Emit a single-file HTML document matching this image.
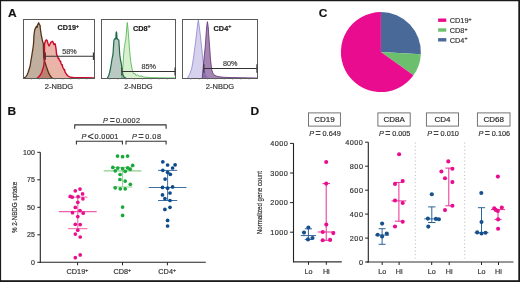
<!DOCTYPE html>
<html><head><meta charset="utf-8"><style>
html,body{margin:0;padding:0;background:#fff;}
svg{display:block;}
text{font-family:"Liberation Sans",sans-serif;stroke:#333;stroke-width:0.18px;}
</style></head><body>
<svg width="520" height="282" viewBox="0 0 520 282" font-family="Liberation Sans, sans-serif">
<rect width="520" height="282" fill="#fff"/>
<rect x="0" y="0" width="1.1" height="282" fill="#1a1a1a"/>
<rect x="0" y="0" width="520" height="1.25" fill="#1a1a1a"/>
<rect x="518.3" y="0" width="1.7" height="282" fill="#1a1a1a"/>
<rect x="0" y="280.2" width="520" height="1.8" fill="#1a1a1a"/>
<text transform="translate(7.9,16.9) scale(1.15,1)" font-size="10.4" font-weight="bold" fill="#111">A</text>
<text transform="translate(7.6,114.7) scale(1.15,1)" font-size="10.4" font-weight="bold" fill="#111">B</text>
<text transform="translate(318.7,17.1) scale(1.15,1)" font-size="10.4" font-weight="bold" fill="#111">C</text>
<text transform="translate(250.5,114.7) scale(1.15,1)" font-size="10.4" font-weight="bold" fill="#111">D</text>
<path d="M23.6,78.3 L24.5,77.6 L25.7,77 L27,75 L28.2,72.3 L29.2,69 L30.1,66.1 L30.7,62 L31.3,58.6 L31.9,55 L32.5,51.2 L33,48 L33.4,45 L33.7,41 L34,35 L34.4,32 L34.8,29.6 L35.6,28 L36.4,26.4 L37,27.5 L37.7,24.5 L38.7,22.7 L39.3,24.5 L40.1,25.4 L40.3,28 L40.6,30.7 L41.1,34 L41.7,37.1 L42.3,40 L42.8,42 L43.3,43.5 L43.5,50 L43.7,57.4 L44.9,62 L46.2,66.1 L47.4,69.5 L48.6,72.9 L49.8,75.2 L51.1,77 L52.5,78.3 Z" fill="#C0AE9F" fill-opacity="1" stroke="none"/>
<clipPath id="cb"><path d="M23.6,78.3 L24.5,77.6 L25.7,77 L27,75 L28.2,72.3 L29.2,69 L30.1,66.1 L30.7,62 L31.3,58.6 L31.9,55 L32.5,51.2 L33,48 L33.4,45 L33.7,41 L34,35 L34.4,32 L34.8,29.6 L35.6,28 L36.4,26.4 L37,27.5 L37.7,24.5 L38.7,22.7 L39.3,24.5 L40.1,25.4 L40.3,28 L40.6,30.7 L41.1,34 L41.7,37.1 L42.3,40 L42.8,42 L43.3,43.5 L43.5,50 L43.7,57.4 L44.9,62 L46.2,66.1 L47.4,69.5 L48.6,72.9 L49.8,75.2 L51.1,77 L52.5,78.3 Z"/></clipPath>
<path d="M36.9,78.3 L38.7,77 L40.3,75 L41.8,72.3 L42.8,69 L43.7,66.1 L44.2,62 L44.5,58 L44.5,50 L44.6,44 L45.2,41.5 L46,40.2 L46.6,39.9 L47.3,41 L48,43.5 L48.6,45 L49.1,45.9 L49.8,44.5 L50.5,43 L51.2,42 L52,41.5 L52.6,41.3 L53.2,42.5 L53.7,44 L54.1,44.5 L54.6,44 L55.1,43.8 L55.6,46 L56.2,50.2 L56.5,53.7 L57,55.5 L57.8,56.6 L58.2,58.5 L58.8,58.2 L59.3,59.8 L60.2,61.5 L60.6,61.2 L61,63.5 L61.8,65 L62.3,64.8 L62.6,66.8 L63.4,68.5 L64.2,70 L64.6,69.6 L65,71.8 L65.8,73.2 L66.6,74.5 L67.5,75.5 L68.4,76.2 L69.5,76.8 L71,77.3 L74,77.6 L78,77.8 L86,77.8 L94,78 Z" fill="#EBB4A9"/>
<path d="M36.9,78.3 L38.7,77 L40.3,75 L41.8,72.3 L42.8,69 L43.7,66.1 L44.2,62 L44.5,58 L44.5,50 L44.6,44 L45.2,41.5 L46,40.2 L46.6,39.9 L47.3,41 L48,43.5 L48.6,45 L49.1,45.9 L49.8,44.5 L50.5,43 L51.2,42 L52,41.5 L52.6,41.3 L53.2,42.5 L53.7,44 L54.1,44.5 L54.6,44 L55.1,43.8 L55.6,46 L56.2,50.2 L56.5,53.7 L57,55.5 L57.8,56.6 L58.2,58.5 L58.8,58.2 L59.3,59.8 L60.2,61.5 L60.6,61.2 L61,63.5 L61.8,65 L62.3,64.8 L62.6,66.8 L63.4,68.5 L64.2,70 L64.6,69.6 L65,71.8 L65.8,73.2 L66.6,74.5 L67.5,75.5 L68.4,76.2 L69.5,76.8 L71,77.3 L74,77.6 L78,77.8 L86,77.8 L94,78 Z" fill="#BB8070" clip-path="url(#cb)"/>
<path d="M23.6,78.3 L24.5,77.6 L25.7,77 L27,75 L28.2,72.3 L29.2,69 L30.1,66.1 L30.7,62 L31.3,58.6 L31.9,55 L32.5,51.2 L33,48 L33.4,45 L33.7,41 L34,35 L34.4,32 L34.8,29.6 L35.6,28 L36.4,26.4 L37,27.5 L37.7,24.5 L38.7,22.7 L39.3,24.5 L40.1,25.4 L40.3,28 L40.6,30.7 L41.1,34 L41.7,37.1 L42.3,40 L42.8,42 L43.3,43.5 L43.5,50 L43.7,57.4 L44.9,62 L46.2,66.1 L47.4,69.5 L48.6,72.9 L49.8,75.2 L51.1,77 L52.5,78.3" fill="none" stroke="#553418" stroke-width="1.3" stroke-linejoin="round"/>
<path d="M36.9,78.3 L38.7,77 L40.3,75 L41.8,72.3 L42.8,69 L43.7,66.1 L44.2,62 L44.5,58 L44.5,50 L44.6,44 L45.2,41.5 L46,40.2 L46.6,39.9 L47.3,41 L48,43.5 L48.6,45 L49.1,45.9 L49.8,44.5 L50.5,43 L51.2,42 L52,41.5 L52.6,41.3 L53.2,42.5 L53.7,44 L54.1,44.5 L54.6,44 L55.1,43.8 L55.6,46 L56.2,50.2 L56.5,53.7 L57,55.5 L57.8,56.6 L58.2,58.5 L58.8,58.2 L59.3,59.8 L60.2,61.5 L60.6,61.2 L61,63.5 L61.8,65 L62.3,64.8 L62.6,66.8 L63.4,68.5 L64.2,70 L64.6,69.6 L65,71.8 L65.8,73.2 L66.6,74.5 L67.5,75.5 L68.4,76.2 L69.5,76.8 L71,77.3 L74,77.6 L78,77.8 L86,77.8 L94,78" fill="none" stroke="#C80A2C" stroke-width="1.4" stroke-linejoin="round"/>
<path d="M107.4,78.3 L108.5,76 L109.5,73 L110.6,68 L111.4,63 L112.2,58 L112.9,55 L113.4,48 L113.8,42 L114,40 L115,38.5 L115.8,39 L116.1,33 L116.4,31.9 L116.7,33 L117,38.5 L118,39.5 L118.8,40 L119.2,46 L119.8,55 L120.5,60 L121.2,63 L121.8,67 L122.3,71.1 L123,75 L124,77 L126,78.3 Z" fill="#BACAC3" fill-opacity="1" stroke="none"/>
<path d="M121.9,78.3 L122.6,70 L123.2,62 L123.6,55 L124.3,48 L125.2,42 L125.7,40 L126.3,33 L126.8,27 L127.3,22.5 L127.8,27 L128.3,33 L128.9,40 L129.4,48 L130,55 L130.8,61.6 L131.8,68 L132.9,72.2 L134,74 L135,73.5 L136,75.5 L137.5,74.8 L139,76.2 L141,76 L143.5,77 L150,77.6 L160,77.8 L175,78 Z" fill="#D8EFD0" style="mix-blend-mode:multiply"/>
<path d="M107.4,78.3 L108.5,76 L109.5,73 L110.6,68 L111.4,63 L112.2,58 L112.9,55 L113.4,48 L113.8,42 L114,40 L115,38.5 L115.8,39 L116.1,33 L116.4,31.9 L116.7,33 L117,38.5 L118,39.5 L118.8,40 L119.2,46 L119.8,55 L120.5,60 L121.2,63 L121.8,67 L122.3,71.1 L123,75 L124,77 L126,78.3" fill="none" stroke="#1C6A4A" stroke-width="1.2" stroke-linejoin="round"/>
<path d="M121.9,78.3 L122.6,70 L123.2,62 L123.6,55 L124.3,48 L125.2,42 L125.7,40 L126.3,33 L126.8,27 L127.3,22.5 L127.8,27 L128.3,33 L128.9,40 L129.4,48 L130,55 L130.8,61.6 L131.8,68 L132.9,72.2 L134,74 L135,73.5 L136,75.5 L137.5,74.8 L139,76.2 L141,76 L143.5,77 L150,77.6 L160,77.8 L175,78" fill="none" stroke="#46B447" stroke-width="0.8" stroke-linejoin="round"/>
<path d="M187.3,78.3 L189.5,74.5 L191.6,69 L192.7,63 L193.9,55 L194.6,49 L195.6,42 L196.5,34 L197.3,27 L197.8,23 L198.3,20.2 L198.8,23 L199.4,28 L200.2,34 L201,42 L201.8,49 L202.5,56 L203.3,63 L204.2,68 L205,71.1 L206.2,75 L207.5,77.2 L209,78.3 Z" fill="#D6D2EE" fill-opacity="1" stroke="none"/>
<path d="M202.2,78.3 L202.8,72 L203.4,65 L204.2,57 L205,49 L205.6,42 L206.1,34 L206.7,27 L207.1,23.5 L207.4,21.7 L207.8,24 L208.3,28 L208.7,34 L209.2,41 L209.8,49 L210.3,57 L211,64 L211.8,70 L212.8,73 L214,74.8 L216,76 L219,76.8 L224,77.3 L232,77.6 L257,78 Z" fill="#A585B2" style="mix-blend-mode:multiply"/>
<path d="M187.3,78.3 L189.5,74.5 L191.6,69 L192.7,63 L193.9,55 L194.6,49 L195.6,42 L196.5,34 L197.3,27 L197.8,23 L198.3,20.2 L198.8,23 L199.4,28 L200.2,34 L201,42 L201.8,49 L202.5,56 L203.3,63 L204.2,68 L205,71.1 L206.2,75 L207.5,77.2 L209,78.3" fill="none" stroke="#8C84CE" stroke-width="0.8" stroke-linejoin="round"/>
<path d="M202.2,78.3 L202.8,72 L203.4,65 L204.2,57 L205,49 L205.6,42 L206.1,34 L206.7,27 L207.1,23.5 L207.4,21.7 L207.8,24 L208.3,28 L208.7,34 L209.2,41 L209.8,49 L210.3,57 L211,64 L211.8,70 L212.8,73 L214,74.8 L216,76 L219,76.8 L224,77.3 L232,77.6 L257,78" fill="none" stroke="#643478" stroke-width="0.85" stroke-linejoin="round"/>
<rect x="23.5" y="19.5" width="71.0" height="59" fill="none" stroke="#5a5a5a" stroke-width="1"/>
<line x1="31.38888888888889" y1="78.5" x2="31.38888888888889" y2="80" stroke="#999" stroke-width="0.5" />
<line x1="39.27777777777778" y1="78.5" x2="39.27777777777778" y2="80" stroke="#999" stroke-width="0.5" />
<line x1="47.16666666666667" y1="78.5" x2="47.16666666666667" y2="80" stroke="#999" stroke-width="0.5" />
<line x1="55.05555555555556" y1="78.5" x2="55.05555555555556" y2="80" stroke="#999" stroke-width="0.5" />
<line x1="62.94444444444444" y1="78.5" x2="62.94444444444444" y2="80" stroke="#999" stroke-width="0.5" />
<line x1="70.83333333333334" y1="78.5" x2="70.83333333333334" y2="80" stroke="#999" stroke-width="0.5" />
<line x1="78.72222222222223" y1="78.5" x2="78.72222222222223" y2="80" stroke="#999" stroke-width="0.5" />
<line x1="86.61111111111111" y1="78.5" x2="86.61111111111111" y2="80" stroke="#999" stroke-width="0.5" />
<text x="59.0" y="88.8" font-size="7.5" text-anchor="middle" font-weight="normal" fill="#333"  >2-NBDG</text>
<rect x="101.5" y="19.5" width="74.0" height="59" fill="none" stroke="#5a5a5a" stroke-width="1"/>
<line x1="109.72222222222223" y1="78.5" x2="109.72222222222223" y2="80" stroke="#999" stroke-width="0.5" />
<line x1="117.94444444444444" y1="78.5" x2="117.94444444444444" y2="80" stroke="#999" stroke-width="0.5" />
<line x1="126.16666666666667" y1="78.5" x2="126.16666666666667" y2="80" stroke="#999" stroke-width="0.5" />
<line x1="134.38888888888889" y1="78.5" x2="134.38888888888889" y2="80" stroke="#999" stroke-width="0.5" />
<line x1="142.61111111111111" y1="78.5" x2="142.61111111111111" y2="80" stroke="#999" stroke-width="0.5" />
<line x1="150.83333333333334" y1="78.5" x2="150.83333333333334" y2="80" stroke="#999" stroke-width="0.5" />
<line x1="159.05555555555554" y1="78.5" x2="159.05555555555554" y2="80" stroke="#999" stroke-width="0.5" />
<line x1="167.27777777777777" y1="78.5" x2="167.27777777777777" y2="80" stroke="#999" stroke-width="0.5" />
<text x="138.5" y="88.8" font-size="7.5" text-anchor="middle" font-weight="normal" fill="#333"  >2-NBDG</text>
<rect x="182.5" y="19.5" width="75.0" height="59" fill="none" stroke="#5a5a5a" stroke-width="1"/>
<line x1="190.83333333333334" y1="78.5" x2="190.83333333333334" y2="80" stroke="#999" stroke-width="0.5" />
<line x1="199.16666666666666" y1="78.5" x2="199.16666666666666" y2="80" stroke="#999" stroke-width="0.5" />
<line x1="207.5" y1="78.5" x2="207.5" y2="80" stroke="#999" stroke-width="0.5" />
<line x1="215.83333333333334" y1="78.5" x2="215.83333333333334" y2="80" stroke="#999" stroke-width="0.5" />
<line x1="224.16666666666666" y1="78.5" x2="224.16666666666666" y2="80" stroke="#999" stroke-width="0.5" />
<line x1="232.5" y1="78.5" x2="232.5" y2="80" stroke="#999" stroke-width="0.5" />
<line x1="240.83333333333334" y1="78.5" x2="240.83333333333334" y2="80" stroke="#999" stroke-width="0.5" />
<line x1="249.16666666666669" y1="78.5" x2="249.16666666666669" y2="80" stroke="#999" stroke-width="0.5" />
<text x="220.0" y="88.8" font-size="7.5" text-anchor="middle" font-weight="normal" fill="#333"  >2-NBDG</text>
<text x="57.6" y="30.3" font-size="7.2" font-weight="bold" fill="#111" text-anchor="start">CD19<tspan font-size="5.184" dy="-2.16">+</tspan></text>
<text x="132.9" y="30.5" font-size="7.3" font-weight="bold" fill="#111" text-anchor="start">CD8<tspan font-size="5.255999999999999" dy="-2.19">+</tspan></text>
<text x="213.6" y="30.5" font-size="7.3" font-weight="bold" fill="#111" text-anchor="start">CD4<tspan font-size="5.255999999999999" dy="-2.19">+</tspan></text>
<line x1="45.3" y1="56.2" x2="93.4" y2="56.2" stroke="#333" stroke-width="1.1" />
<line x1="45.3" y1="52.400000000000006" x2="45.3" y2="60.0" stroke="#333" stroke-width="1.1" />
<line x1="93.4" y1="52.400000000000006" x2="93.4" y2="60.0" stroke="#333" stroke-width="1.1" />
<line x1="121.8" y1="71.5" x2="175" y2="71.5" stroke="#333" stroke-width="1.1" />
<line x1="121.8" y1="67.5" x2="121.8" y2="75.5" stroke="#333" stroke-width="1.1" />
<line x1="175" y1="67.5" x2="175" y2="75.5" stroke="#333" stroke-width="1.1" />
<line x1="203.9" y1="68.5" x2="256.9" y2="68.5" stroke="#333" stroke-width="1.1" />
<line x1="203.9" y1="64.3" x2="203.9" y2="72.7" stroke="#333" stroke-width="1.1" />
<line x1="256.9" y1="64.3" x2="256.9" y2="72.7" stroke="#333" stroke-width="1.1" />
<text x="62.2" y="54" font-size="7.2" text-anchor="start" font-weight="normal" fill="#444"  >58%</text>
<text x="141.4" y="68.6" font-size="7.2" text-anchor="start" font-weight="normal" fill="#444"  >85%</text>
<text x="223" y="66.4" font-size="7.2" text-anchor="start" font-weight="normal" fill="#444"  >80%</text>
<path d="M380.9,52.1 L380.90,12.10 A40,40 0 0 1 420.85,54.19 Z" fill="#496A98"/>
<path d="M380.9,52.1 L420.85,54.19 A40,40 0 0 1 413.46,75.33 Z" fill="#6CC06D"/>
<path d="M380.9,52.1 L413.46,75.33 A40,40 0 1 1 380.90,12.10 Z" fill="#EA0C8E"/>
<rect x="438.1" y="18.5" width="8.2" height="3.4" fill="#EA0C8E"/>
<text x="449.8" y="22.9" font-size="7.3" font-weight="normal" fill="#333" text-anchor="start">CD19<tspan font-size="5.255999999999999" dy="-2.19">+</tspan></text>
<rect x="438.1" y="28.3" width="8.2" height="3.4" fill="#6CC06D"/>
<text x="449.8" y="32.7" font-size="7.3" font-weight="normal" fill="#333" text-anchor="start">CD8<tspan font-size="5.255999999999999" dy="-2.19">+</tspan></text>
<rect x="438.1" y="38.1" width="8.2" height="3.4" fill="#496A98"/>
<text x="449.8" y="42.5" font-size="7.3" font-weight="normal" fill="#333" text-anchor="start">CD4<tspan font-size="5.255999999999999" dy="-2.19">+</tspan></text>
<line x1="40.3" y1="152.3" x2="40.3" y2="262.8" stroke="#222" stroke-width="1.1" />
<line x1="39.8" y1="262.3" x2="205.8" y2="262.3" stroke="#222" stroke-width="1.1" />
<line x1="37.3" y1="152.3" x2="40.3" y2="152.3" stroke="#222" stroke-width="1" />
<text x="34.8" y="154.8" font-size="7" text-anchor="end" font-weight="normal" fill="#333"  >100</text>
<line x1="37.3" y1="179.8" x2="40.3" y2="179.8" stroke="#222" stroke-width="1" />
<text x="34.8" y="182.3" font-size="7" text-anchor="end" font-weight="normal" fill="#333"  >75</text>
<line x1="37.3" y1="207.3" x2="40.3" y2="207.3" stroke="#222" stroke-width="1" />
<text x="34.8" y="209.8" font-size="7" text-anchor="end" font-weight="normal" fill="#333"  >50</text>
<line x1="37.3" y1="234.8" x2="40.3" y2="234.8" stroke="#222" stroke-width="1" />
<text x="34.8" y="237.3" font-size="7" text-anchor="end" font-weight="normal" fill="#333"  >25</text>
<line x1="37.3" y1="262.3" x2="40.3" y2="262.3" stroke="#222" stroke-width="1" />
<text x="34.8" y="264.8" font-size="7" text-anchor="end" font-weight="normal" fill="#333"  >0</text>
<line x1="77.6" y1="262.3" x2="77.6" y2="265.3" stroke="#222" stroke-width="1" />
<text x="77.39999999999999" y="273.9" font-size="7.3" font-weight="normal" fill="#333" text-anchor="middle">CD19<tspan font-size="5.255999999999999" dy="-2.19">+</tspan></text>
<line x1="122.5" y1="262.3" x2="122.5" y2="265.3" stroke="#222" stroke-width="1" />
<text x="122.3" y="273.9" font-size="7.3" font-weight="normal" fill="#333" text-anchor="middle">CD8<tspan font-size="5.255999999999999" dy="-2.19">+</tspan></text>
<line x1="167.4" y1="262.3" x2="167.4" y2="265.3" stroke="#222" stroke-width="1" />
<text x="167.20000000000002" y="273.9" font-size="7.3" font-weight="normal" fill="#333" text-anchor="middle">CD4<tspan font-size="5.255999999999999" dy="-2.19">+</tspan></text>
<text transform="translate(16.7,207.5) rotate(-90) scale(0.78,1)" font-size="8" text-anchor="middle" fill="#2a2a2a" stroke="#2a2a2a" stroke-width="0.2">% 2-NBDG uptake</text>
<line x1="58.9" y1="211.6" x2="96.69999999999999" y2="211.6" stroke="#EE5FA9" stroke-width="1.1" />
<line x1="68.1" y1="197.1" x2="87.5" y2="197.1" stroke="#EE5FA9" stroke-width="1" />
<line x1="68.1" y1="228.7" x2="87.5" y2="228.7" stroke="#EE5FA9" stroke-width="1" />
<line x1="77.8" y1="197.1" x2="77.8" y2="228.7" stroke="#EE5FA9" stroke-width="1" />
<circle cx="80.0" cy="189.1" r="1.85" fill="#E8108C"/>
<circle cx="75.3" cy="190.8" r="1.85" fill="#E8108C"/>
<circle cx="82.6" cy="193.9" r="1.85" fill="#E8108C"/>
<circle cx="70.3" cy="196.4" r="1.85" fill="#E8108C"/>
<circle cx="72.2" cy="197.2" r="1.85" fill="#E8108C"/>
<circle cx="78.1" cy="196.7" r="1.85" fill="#E8108C"/>
<circle cx="82.9" cy="198.8" r="1.85" fill="#E8108C"/>
<circle cx="77.8" cy="202.3" r="1.85" fill="#E8108C"/>
<circle cx="75.3" cy="207.4" r="1.85" fill="#E8108C"/>
<circle cx="80.0" cy="210.6" r="1.85" fill="#E8108C"/>
<circle cx="72.5" cy="212.7" r="1.85" fill="#E8108C"/>
<circle cx="83.2" cy="213.2" r="1.85" fill="#E8108C"/>
<circle cx="77.8" cy="216.6" r="1.85" fill="#E8108C"/>
<circle cx="75.3" cy="224.3" r="1.85" fill="#E8108C"/>
<circle cx="80.2" cy="224.6" r="1.85" fill="#E8108C"/>
<circle cx="77.8" cy="230.2" r="1.85" fill="#E8108C"/>
<circle cx="75.3" cy="234.1" r="1.85" fill="#E8108C"/>
<circle cx="80.2" cy="237.0" r="1.85" fill="#E8108C"/>
<circle cx="80.2" cy="254.9" r="1.85" fill="#E8108C"/>
<circle cx="75.3" cy="257.7" r="1.85" fill="#E8108C"/>
<line x1="103.69999999999999" y1="170.9" x2="141.5" y2="170.9" stroke="#8ED08E" stroke-width="1.1" />
<line x1="113.0" y1="167.4" x2="132.2" y2="167.4" stroke="#8ED08E" stroke-width="1" />
<line x1="113.0" y1="187" x2="132.2" y2="187" stroke="#8ED08E" stroke-width="1" />
<line x1="122.6" y1="167.4" x2="122.6" y2="187" stroke="#8ED08E" stroke-width="1" />
<circle cx="117.5" cy="156.1" r="1.85" fill="#19A83C"/>
<circle cx="122.6" cy="156.7" r="1.85" fill="#19A83C"/>
<circle cx="127.6" cy="156.1" r="1.85" fill="#19A83C"/>
<circle cx="132.7" cy="165.4" r="1.85" fill="#19A83C"/>
<circle cx="112.8" cy="167.4" r="1.85" fill="#19A83C"/>
<circle cx="117.8" cy="168.1" r="1.85" fill="#19A83C"/>
<circle cx="122.6" cy="168.6" r="1.85" fill="#19A83C"/>
<circle cx="127.7" cy="167.9" r="1.85" fill="#19A83C"/>
<circle cx="130.2" cy="169.3" r="1.85" fill="#19A83C"/>
<circle cx="115.3" cy="170.8" r="1.85" fill="#19A83C"/>
<circle cx="125.2" cy="171.3" r="1.85" fill="#19A83C"/>
<circle cx="120.1" cy="174.5" r="1.85" fill="#19A83C"/>
<circle cx="119.9" cy="179.5" r="1.85" fill="#19A83C"/>
<circle cx="125.2" cy="181.1" r="1.85" fill="#19A83C"/>
<circle cx="130.3" cy="184.3" r="1.85" fill="#19A83C"/>
<circle cx="115.2" cy="187.8" r="1.85" fill="#19A83C"/>
<circle cx="120.3" cy="188.8" r="1.85" fill="#19A83C"/>
<circle cx="125.2" cy="188.8" r="1.85" fill="#19A83C"/>
<circle cx="122.6" cy="207.1" r="1.85" fill="#19A83C"/>
<circle cx="122.6" cy="215.4" r="1.85" fill="#19A83C"/>
<line x1="148.7" y1="187.5" x2="186.5" y2="187.5" stroke="#3C6EA3" stroke-width="1.1" />
<line x1="158.0" y1="170.4" x2="177.2" y2="170.4" stroke="#3C6EA3" stroke-width="1" />
<line x1="158.0" y1="200.5" x2="177.2" y2="200.5" stroke="#3C6EA3" stroke-width="1" />
<line x1="167.6" y1="170.4" x2="167.6" y2="200.5" stroke="#3C6EA3" stroke-width="1" />
<circle cx="162.8" cy="161.8" r="1.85" fill="#0C4A89"/>
<circle cx="167.6" cy="165.0" r="1.85" fill="#0C4A89"/>
<circle cx="175.1" cy="164.8" r="1.85" fill="#0C4A89"/>
<circle cx="172.6" cy="168.0" r="1.85" fill="#0C4A89"/>
<circle cx="162.8" cy="170.3" r="1.85" fill="#0C4A89"/>
<circle cx="167.6" cy="172.3" r="1.85" fill="#0C4A89"/>
<circle cx="170.3" cy="174.3" r="1.85" fill="#0C4A89"/>
<circle cx="165.1" cy="179.1" r="1.85" fill="#0C4A89"/>
<circle cx="162.5" cy="187.4" r="1.85" fill="#0C4A89"/>
<circle cx="167.6" cy="188.2" r="1.85" fill="#0C4A89"/>
<circle cx="172.6" cy="186.9" r="1.85" fill="#0C4A89"/>
<circle cx="162.5" cy="194.9" r="1.85" fill="#0C4A89"/>
<circle cx="170" cy="193.0" r="1.85" fill="#0C4A89"/>
<circle cx="164.9" cy="198.6" r="1.85" fill="#0C4A89"/>
<circle cx="170" cy="200.5" r="1.85" fill="#0C4A89"/>
<circle cx="164.9" cy="209.4" r="1.85" fill="#0C4A89"/>
<circle cx="170" cy="207.3" r="1.85" fill="#0C4A89"/>
<circle cx="167.6" cy="220.4" r="1.85" fill="#0C4A89"/>
<circle cx="167.6" cy="226.0" r="1.85" fill="#0C4A89"/>
<line x1="74.7" y1="124.9" x2="166.1" y2="124.9" stroke="#333" stroke-width="1.1" />
<line x1="74.7" y1="124.4" x2="74.7" y2="128.70000000000002" stroke="#333" stroke-width="1.1" />
<line x1="166.1" y1="124.4" x2="166.1" y2="128.70000000000002" stroke="#333" stroke-width="1.1" />
<line x1="76.4" y1="141.3" x2="122.4" y2="141.3" stroke="#333" stroke-width="1.1" />
<line x1="76.4" y1="140.8" x2="76.4" y2="144.60000000000002" stroke="#333" stroke-width="1.1" />
<line x1="122.4" y1="140.8" x2="122.4" y2="144.60000000000002" stroke="#333" stroke-width="1.1" />
<line x1="126" y1="141.3" x2="166.1" y2="141.3" stroke="#333" stroke-width="1.1" />
<line x1="126" y1="140.8" x2="126" y2="144.60000000000002" stroke="#333" stroke-width="1.1" />
<line x1="166.1" y1="140.8" x2="166.1" y2="144.60000000000002" stroke="#333" stroke-width="1.1" />
<text x="102.9" y="122.5" font-size="7.3" font-style="italic" fill="#333">P</text>
<text x="109.8" y="123.0" font-size="8.76" font-weight="bold" fill="#444">=</text>
<text x="115.9" y="122.5" font-size="7.3" fill="#333" letter-spacing="0.38">0.0002</text>
<text x="81.6" y="139.0" font-size="7.3" font-style="italic" fill="#333">P</text>
<text x="87.6" y="140.3" font-size="10.8" fill="#333">&lt;</text>
<text x="94.6" y="139.0" font-size="7.3" fill="#333" letter-spacing="0.3">0.0001</text>
<text x="132.0" y="138.8" font-size="7.3" font-style="italic" fill="#333">P</text>
<text x="138.4" y="139.3" font-size="8.76" font-weight="bold" fill="#444">=</text>
<text x="145.2" y="138.8" font-size="7.3" fill="#333" letter-spacing="0.55">0.08</text>
<text transform="translate(262.1,202.6) rotate(-90) scale(0.79,1)" font-size="7.8" text-anchor="middle" fill="#2a2a2a" stroke="#2a2a2a" stroke-width="0.2">Normalized gene count</text>
<line x1="293.5" y1="143.3" x2="293.5" y2="262.3" stroke="#222" stroke-width="1.1" />
<line x1="293" y1="261.8" x2="341.8" y2="261.8" stroke="#333" stroke-width="1.2" />
<line x1="290" y1="143.4" x2="293.5" y2="143.4" stroke="#222" stroke-width="1" />
<text x="288.2" y="145.9" font-size="7.3" text-anchor="end" font-weight="normal" fill="#333"  letter-spacing="0.45">4000</text>
<line x1="290" y1="173" x2="293.5" y2="173" stroke="#222" stroke-width="1" />
<text x="288.2" y="175.5" font-size="7.3" text-anchor="end" font-weight="normal" fill="#333"  letter-spacing="0.45">3000</text>
<line x1="290" y1="202.6" x2="293.5" y2="202.6" stroke="#222" stroke-width="1" />
<text x="288.2" y="205.1" font-size="7.3" text-anchor="end" font-weight="normal" fill="#333"  letter-spacing="0.45">2000</text>
<line x1="290" y1="232.2" x2="293.5" y2="232.2" stroke="#222" stroke-width="1" />
<text x="288.2" y="234.7" font-size="7.3" text-anchor="end" font-weight="normal" fill="#333"  letter-spacing="0.45">1000</text>
<line x1="368.3" y1="142.2" x2="368.3" y2="262.5" stroke="#222" stroke-width="1.1" />
<line x1="366.8" y1="262" x2="513.5" y2="262" stroke="#333" stroke-width="1.2" />
<line x1="365.1" y1="142.2" x2="368.3" y2="142.2" stroke="#222" stroke-width="1" />
<text x="363.4" y="144.7" font-size="7.3" text-anchor="end" font-weight="normal" fill="#333"  letter-spacing="0.45">4000</text>
<line x1="365.1" y1="166.2" x2="368.3" y2="166.2" stroke="#222" stroke-width="1" />
<text x="363.4" y="168.7" font-size="7.3" text-anchor="end" font-weight="normal" fill="#333"  letter-spacing="0.45">800</text>
<line x1="365.1" y1="190.2" x2="368.3" y2="190.2" stroke="#222" stroke-width="1" />
<text x="363.4" y="192.7" font-size="7.3" text-anchor="end" font-weight="normal" fill="#333"  letter-spacing="0.45">600</text>
<line x1="365.1" y1="214.1" x2="368.3" y2="214.1" stroke="#222" stroke-width="1" />
<text x="363.4" y="216.6" font-size="7.3" text-anchor="end" font-weight="normal" fill="#333"  letter-spacing="0.45">400</text>
<line x1="365.1" y1="238.1" x2="368.3" y2="238.1" stroke="#222" stroke-width="1" />
<text x="363.4" y="240.6" font-size="7.3" text-anchor="end" font-weight="normal" fill="#333"  letter-spacing="0.45">200</text>
<line x1="365.1" y1="262" x2="368.3" y2="262" stroke="#222" stroke-width="1" />
<text x="363.4" y="264.5" font-size="7.3" text-anchor="end" font-weight="normal" fill="#333"  letter-spacing="0.45">0</text>
<line x1="415.3" y1="142.5" x2="415.3" y2="258.5" stroke="#b0b0b0" stroke-width="0.9" stroke-dasharray="1 2.6"/>
<line x1="464.7" y1="142.5" x2="464.7" y2="258.5" stroke="#b0b0b0" stroke-width="0.9" stroke-dasharray="1 2.6"/>
<line x1="308.5" y1="261.8" x2="308.5" y2="264.8" stroke="#222" stroke-width="1" />
<text x="308.5" y="273.8" font-size="7.2" text-anchor="middle" font-weight="normal" fill="#333"  >Lo</text>
<line x1="326.3" y1="261.8" x2="326.3" y2="264.8" stroke="#222" stroke-width="1" />
<text x="326.3" y="273.8" font-size="7.2" text-anchor="middle" font-weight="normal" fill="#333"  >Hi</text>
<line x1="382.2" y1="262" x2="382.2" y2="265" stroke="#222" stroke-width="1" />
<text x="382.2" y="273.8" font-size="7.2" text-anchor="middle" font-weight="normal" fill="#333"  >Lo</text>
<line x1="399.1" y1="262" x2="399.1" y2="265" stroke="#222" stroke-width="1" />
<text x="399.1" y="273.8" font-size="7.2" text-anchor="middle" font-weight="normal" fill="#333"  >Hi</text>
<line x1="431.7" y1="262" x2="431.7" y2="265" stroke="#222" stroke-width="1" />
<text x="431.7" y="273.8" font-size="7.2" text-anchor="middle" font-weight="normal" fill="#333"  >Lo</text>
<line x1="449.2" y1="262" x2="449.2" y2="265" stroke="#222" stroke-width="1" />
<text x="449.2" y="273.8" font-size="7.2" text-anchor="middle" font-weight="normal" fill="#333"  >Hi</text>
<line x1="481.5" y1="262" x2="481.5" y2="265" stroke="#222" stroke-width="1" />
<text x="481.5" y="273.8" font-size="7.2" text-anchor="middle" font-weight="normal" fill="#333"  >Lo</text>
<line x1="498.5" y1="262" x2="498.5" y2="265" stroke="#222" stroke-width="1" />
<text x="498.5" y="273.8" font-size="7.2" text-anchor="middle" font-weight="normal" fill="#333"  >Hi</text>
<rect x="308.5" y="112.9" width="31.899999999999977" height="13.2" fill="none" stroke="#666" stroke-width="0.9"/>
<text x="324.45" y="122.4" font-size="8" text-anchor="middle" font-weight="normal" fill="#222"  >CD19</text>
<text x="309.34999999999997" y="135.8" font-size="7.3" font-style="italic" fill="#333">P</text>
<text x="315.55" y="136.3" font-size="8.76" font-weight="bold" fill="#444">=</text>
<text x="322.55" y="135.8" font-size="7.3" fill="#333" letter-spacing="0">0.649</text>
<rect x="377.9" y="112.9" width="32.30000000000001" height="13.2" fill="none" stroke="#666" stroke-width="0.9"/>
<text x="394.04999999999995" y="122.4" font-size="8" text-anchor="middle" font-weight="normal" fill="#222"  >CD8A</text>
<text x="378.94999999999993" y="135.8" font-size="7.3" font-style="italic" fill="#333">P</text>
<text x="385.15" y="136.3" font-size="8.76" font-weight="bold" fill="#444">=</text>
<text x="392.15" y="135.8" font-size="7.3" fill="#333" letter-spacing="0">0.005</text>
<rect x="426.4" y="112.9" width="32.10000000000002" height="13.2" fill="none" stroke="#666" stroke-width="0.9"/>
<text x="442.45" y="122.4" font-size="8" text-anchor="middle" font-weight="normal" fill="#222"  >CD4</text>
<text x="427.34999999999997" y="135.8" font-size="7.3" font-style="italic" fill="#333">P</text>
<text x="433.55" y="136.3" font-size="8.76" font-weight="bold" fill="#444">=</text>
<text x="440.55" y="135.8" font-size="7.3" fill="#333" letter-spacing="0">0.010</text>
<rect x="477.4" y="112.9" width="32.60000000000002" height="13.2" fill="none" stroke="#666" stroke-width="0.9"/>
<text x="493.7" y="122.4" font-size="8" text-anchor="middle" font-weight="normal" fill="#222"  >CD68</text>
<text x="478.59999999999997" y="135.8" font-size="7.3" font-style="italic" fill="#333">P</text>
<text x="484.8" y="136.3" font-size="8.76" font-weight="bold" fill="#444">=</text>
<text x="491.8" y="135.8" font-size="7.3" fill="#333" letter-spacing="0">0.106</text>
<line x1="300.79999999999995" y1="235.6" x2="316.0" y2="235.6" stroke="#2E6399" stroke-width="1" />
<line x1="304.79999999999995" y1="228.8" x2="312.0" y2="228.8" stroke="#2E6399" stroke-width="1" />
<line x1="304.79999999999995" y1="239.4" x2="312.0" y2="239.4" stroke="#2E6399" stroke-width="1" />
<line x1="308.4" y1="228.8" x2="308.4" y2="239.4" stroke="#2E6399" stroke-width="1" />
<circle cx="308.4" cy="227.5" r="2.05" fill="#17518C"/>
<circle cx="304.0" cy="232.6" r="2.05" fill="#17518C"/>
<circle cx="308.0" cy="239.4" r="2.05" fill="#17518C"/>
<circle cx="312.5" cy="238.0" r="2.05" fill="#17518C"/>
<line x1="317.7" y1="232" x2="334.7" y2="232" stroke="#EA2C95" stroke-width="1" />
<line x1="322.4" y1="183.6" x2="330.0" y2="183.6" stroke="#EA2C95" stroke-width="1" />
<line x1="322.4" y1="240.3" x2="330.0" y2="240.3" stroke="#EA2C95" stroke-width="1" />
<line x1="326.2" y1="183.6" x2="326.2" y2="240.3" stroke="#EA2C95" stroke-width="1" />
<circle cx="326.2" cy="162" r="2.05" fill="#EA0C8E"/>
<circle cx="326.2" cy="183.6" r="2.05" fill="#EA0C8E"/>
<circle cx="326.3" cy="224.6" r="2.05" fill="#EA0C8E"/>
<circle cx="322.7" cy="232.0" r="2.05" fill="#EA0C8E"/>
<circle cx="333.3" cy="233.1" r="2.05" fill="#EA0C8E"/>
<circle cx="322.7" cy="240.3" r="2.05" fill="#EA0C8E"/>
<circle cx="330.1" cy="239.9" r="2.05" fill="#EA0C8E"/>
<line x1="375.0" y1="235.1" x2="389.20000000000005" y2="235.1" stroke="#2E6399" stroke-width="1" />
<line x1="378.6" y1="228.7" x2="385.6" y2="228.7" stroke="#2E6399" stroke-width="1" />
<line x1="378.6" y1="244.3" x2="385.6" y2="244.3" stroke="#2E6399" stroke-width="1" />
<line x1="382.1" y1="228.7" x2="382.1" y2="244.3" stroke="#2E6399" stroke-width="1" />
<circle cx="382.1" cy="223.6" r="2.05" fill="#17518C"/>
<circle cx="377.7" cy="234.7" r="2.05" fill="#17518C"/>
<circle cx="386.8" cy="233.6" r="2.05" fill="#17518C"/>
<circle cx="382.1" cy="236.4" r="2.05" fill="#17518C"/>
<line x1="391.5" y1="200.9" x2="406.29999999999995" y2="200.9" stroke="#EA2C95" stroke-width="1" />
<line x1="394.9" y1="182.4" x2="402.9" y2="182.4" stroke="#EA2C95" stroke-width="1" />
<line x1="394.9" y1="221.2" x2="402.9" y2="221.2" stroke="#EA2C95" stroke-width="1" />
<line x1="398.9" y1="182.4" x2="398.9" y2="221.2" stroke="#EA2C95" stroke-width="1" />
<circle cx="399.1" cy="154.3" r="2.05" fill="#EA0C8E"/>
<circle cx="395.0" cy="183.9" r="2.05" fill="#EA0C8E"/>
<circle cx="402.7" cy="181.1" r="2.05" fill="#EA0C8E"/>
<circle cx="395.0" cy="200.5" r="2.05" fill="#EA0C8E"/>
<circle cx="402.7" cy="203.0" r="2.05" fill="#EA0C8E"/>
<circle cx="402.7" cy="221.8" r="2.05" fill="#EA0C8E"/>
<circle cx="395.0" cy="226.5" r="2.05" fill="#EA0C8E"/>
<line x1="424.3" y1="218.9" x2="439.3" y2="218.9" stroke="#2E6399" stroke-width="1" />
<line x1="428.1" y1="206.9" x2="435.5" y2="206.9" stroke="#2E6399" stroke-width="1" />
<line x1="428.1" y1="222.5" x2="435.5" y2="222.5" stroke="#2E6399" stroke-width="1" />
<line x1="431.8" y1="206.9" x2="431.8" y2="222.5" stroke="#2E6399" stroke-width="1" />
<circle cx="431.8" cy="194.2" r="2.05" fill="#17518C"/>
<circle cx="427.9" cy="218.6" r="2.05" fill="#17518C"/>
<circle cx="435.9" cy="218.9" r="2.05" fill="#17518C"/>
<circle cx="438.9" cy="219.3" r="2.05" fill="#17518C"/>
<circle cx="428.3" cy="226.6" r="2.05" fill="#17518C"/>
<line x1="445.3" y1="168.1" x2="452.3" y2="168.1" stroke="#EA2C95" stroke-width="1" />
<line x1="445.3" y1="205.8" x2="452.3" y2="205.8" stroke="#EA2C95" stroke-width="1" />
<line x1="448.8" y1="168.1" x2="448.8" y2="205.8" stroke="#EA2C95" stroke-width="1" />
<circle cx="448.3" cy="161.4" r="2.05" fill="#EA0C8E"/>
<circle cx="452.4" cy="168.8" r="2.05" fill="#EA0C8E"/>
<circle cx="441.4" cy="171.5" r="2.05" fill="#EA0C8E"/>
<circle cx="445" cy="178.3" r="2.05" fill="#EA0C8E"/>
<circle cx="452.4" cy="182.1" r="2.05" fill="#EA0C8E"/>
<circle cx="452.4" cy="205.8" r="2.05" fill="#EA0C8E"/>
<circle cx="445" cy="210.1" r="2.05" fill="#EA0C8E"/>
<line x1="474.6" y1="232.7" x2="488.4" y2="232.7" stroke="#2E6399" stroke-width="1" />
<line x1="477.9" y1="207.7" x2="485.1" y2="207.7" stroke="#2E6399" stroke-width="1" />
<line x1="481.5" y1="207.7" x2="481.5" y2="232.7" stroke="#2E6399" stroke-width="1" />
<circle cx="481.3" cy="193" r="2.05" fill="#17518C"/>
<circle cx="481.5" cy="222" r="2.05" fill="#17518C"/>
<circle cx="477.2" cy="232.4" r="2.05" fill="#17518C"/>
<circle cx="481.5" cy="233.5" r="2.05" fill="#17518C"/>
<circle cx="485.5" cy="232.7" r="2.05" fill="#17518C"/>
<line x1="490.9" y1="209.6" x2="505.1" y2="209.6" stroke="#EA2C95" stroke-width="1" />
<line x1="494.4" y1="219.4" x2="501.6" y2="219.4" stroke="#EA2C95" stroke-width="1" />
<line x1="498" y1="209.6" x2="498" y2="219.4" stroke="#EA2C95" stroke-width="1" />
<circle cx="497.9" cy="176.6" r="2.05" fill="#EA0C8E"/>
<circle cx="494.2" cy="208.2" r="2.05" fill="#EA0C8E"/>
<circle cx="501.8" cy="207.5" r="2.05" fill="#EA0C8E"/>
<circle cx="497.8" cy="210.9" r="2.05" fill="#EA0C8E"/>
<circle cx="495.7" cy="209.9" r="2.05" fill="#EA0C8E"/>
<circle cx="498.1" cy="219.4" r="2.05" fill="#EA0C8E"/>
<circle cx="498.1" cy="228.8" r="2.05" fill="#EA0C8E"/>
</svg>
</body></html>
